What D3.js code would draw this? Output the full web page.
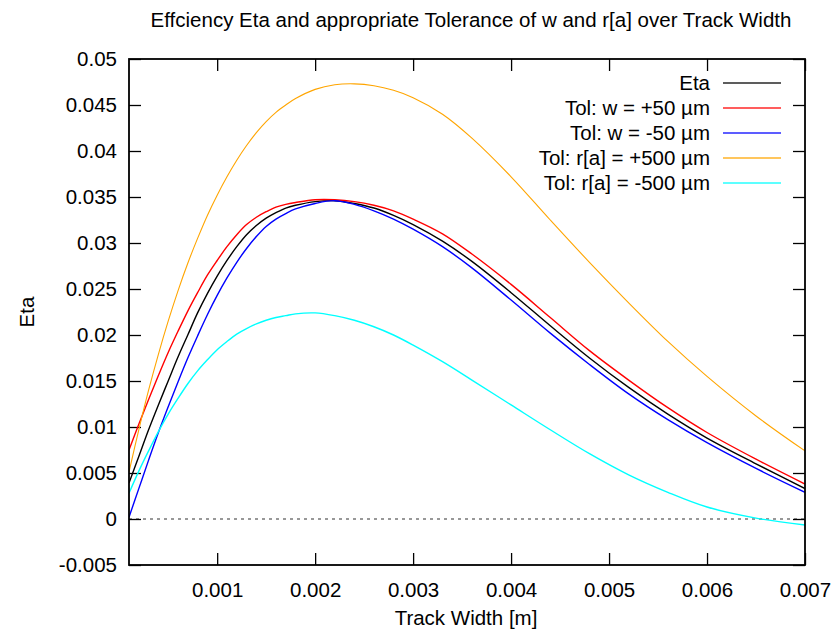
<!DOCTYPE html>
<html>
<head>
<meta charset="utf-8">
<script src="https://cdn.jsdelivr.net/npm/d3@7"></script>
<style>
  html, body { margin: 0; padding: 0; background: #fff; }
  svg { display: block; }
  text { font-family: "Liberation Sans", Arial, Helvetica, sans-serif; fill: #000; }
</style>
</head>
<body>
<script>
// Track width samples [m]
const trackWidth = [0.0001, 0.0002, 0.0003, 0.0004, 0.0005, 0.0006, 0.0007, 0.0008, 0.0009, 0.0010,
  0.0011, 0.0012, 0.0013, 0.0014, 0.0015, 0.0016, 0.0017, 0.0018, 0.0020, 0.0022,
  0.0024, 0.0026, 0.0028, 0.0030, 0.0033, 0.0036, 0.0040, 0.0044, 0.0048, 0.0052,
  0.0056, 0.0060, 0.0065, 0.0070];

// Efficiency Eta and the tolerance variants
const eta = [0.0039, 0.0068, 0.0097, 0.0124, 0.0150, 0.0176, 0.0200, 0.0224, 0.0245, 0.0264,
  0.0281, 0.0296, 0.0309, 0.0319, 0.0327, 0.0333, 0.0338, 0.0341, 0.0345, 0.0346,
  0.0343, 0.0338, 0.0330, 0.0320, 0.0302, 0.0280, 0.0246, 0.0210, 0.0175, 0.0143,
  0.0114, 0.0088, 0.0060, 0.0033];
const tolWPlus = [0.0075, 0.0103, 0.0130, 0.0156, 0.0181, 0.0204, 0.0226, 0.0246, 0.0265, 0.0281,
  0.0296, 0.0309, 0.0320, 0.0328, 0.0334, 0.0339, 0.0342, 0.0344, 0.0347, 0.0347,
  0.0345, 0.0341, 0.0335, 0.0326, 0.0310, 0.0288, 0.0255, 0.0219, 0.0183, 0.0151,
  0.0121, 0.0094, 0.0065, 0.0038];
const tolWMinus = [0.0002, 0.0033, 0.0064, 0.0094, 0.0122, 0.0149, 0.0175, 0.0199, 0.0222, 0.0243,
  0.0262, 0.0279, 0.0294, 0.0307, 0.0318, 0.0326, 0.0332, 0.0337, 0.0343, 0.0346,
  0.0342, 0.0335, 0.0326, 0.0315, 0.0296, 0.0273, 0.0238, 0.0202, 0.0168, 0.0136,
  0.0108, 0.0083, 0.0055, 0.0029];
const tolRaPlus = [0.0051, 0.0097, 0.0140, 0.0179, 0.0215, 0.0248, 0.0278, 0.0305, 0.0330, 0.0352,
  0.0372, 0.0390, 0.0406, 0.0420, 0.0432, 0.0442, 0.0450, 0.0457, 0.0467, 0.0472,
  0.0473, 0.0471, 0.0466, 0.0458, 0.0440, 0.0414, 0.0372, 0.0325, 0.0279, 0.0235,
  0.0193, 0.0155, 0.0112, 0.0074];
const tolRaMinus = [0.0028, 0.0052, 0.0074, 0.0095, 0.0114, 0.0131, 0.0147, 0.0161, 0.0173, 0.0184,
  0.0193, 0.0201, 0.0207, 0.0212, 0.0216, 0.0219, 0.0221, 0.0223, 0.0224, 0.0221,
  0.0216, 0.0209, 0.0200, 0.0189, 0.0171, 0.0151, 0.0124, 0.0097, 0.0071, 0.0048,
  0.0029, 0.0013, 0.0001, -0.00065];

const seriesNames = ["Eta", "Tol: w = +50 µm", "Tol: w = -50 µm", "Tol: r[a] = +500 µm", "Tol: r[a] = -500 µm"];
const seriesValues = [eta, tolWPlus, tolWMinus, tolRaPlus, tolRaMinus];
const seriesColors = ["#000000", "#ff0000", "#0000ff", "#ffa500", "#00ffff"];

const xTicks = [0.001, 0.002, 0.003, 0.004, 0.005, 0.006, 0.007];
const yTicks = [-0.005, 0, 0.005, 0.01, 0.015, 0.02, 0.025, 0.03, 0.035, 0.04, 0.045, 0.05];

const W = 831, H = 642;
const box = { left: 129, right: 805, top: 59, bottom: 565 };
const fs = 20.5;

const svg = d3.select("body").append("svg").attr("width", W).attr("height", H);

const x = d3.scaleLinear().domain([0.0001, 0.007]).range([box.left, box.right]);
const y = d3.scaleLinear().domain([-0.005, 0.05]).range([box.bottom, box.top]);

const fmt = v => String(+v.toFixed(4));

// zero axis, dotted
svg.append("line")
  .attr("x1", box.left).attr("x2", box.right)
  .attr("y1", y(0)).attr("y2", y(0))
  .attr("stroke", "#777").attr("stroke-width", 1.4)
  .attr("stroke-dasharray", "3,4");

// axes with inward ticks, mirrored on top and right
const tickLen = 12;
const axB = svg.append("g").attr("transform", `translate(0,${box.bottom})`)
  .call(d3.axisBottom(x).tickValues(xTicks).tickFormat(fmt).tickSize(-tickLen).tickSizeOuter(0).tickPadding(17));
const axT = svg.append("g").attr("transform", `translate(0,${box.top})`)
  .call(d3.axisTop(x).tickValues(xTicks).tickFormat("").tickSize(-tickLen).tickSizeOuter(0));
const axL = svg.append("g").attr("transform", `translate(${box.left},0)`)
  .call(d3.axisLeft(y).tickValues(yTicks).tickFormat(fmt).tickSize(-tickLen).tickSizeOuter(0).tickPadding(12));
const axR = svg.append("g").attr("transform", `translate(${box.right},0)`)
  .call(d3.axisRight(y).tickValues(yTicks).tickFormat("").tickSize(-tickLen).tickSizeOuter(0));

[axB, axT, axL, axR].forEach(g => {
  g.select(".domain").remove();
  g.selectAll(".tick line").attr("stroke", "#000").attr("stroke-width", 1.3);
  g.selectAll("text").attr("font-size", fs).attr("font-family", "Liberation Sans, Arial, sans-serif").attr("fill", "#000");
});

// curves
const clipId = "plotclip";
svg.append("clipPath").attr("id", clipId).append("rect")
  .attr("x", box.left).attr("y", box.top)
  .attr("width", box.right - box.left).attr("height", box.bottom - box.top);

const line = d3.line().x(d => x(d[0])).y(d => y(d[1])).curve(d3.curveCatmullRom.alpha(0.5));
const widths = [1.4, 1.4, 1.4, 1.1, 1.4];
seriesValues.forEach((vals, i) => {
  svg.append("path")
    .attr("clip-path", `url(#${clipId})`)
    .attr("d", line(trackWidth.map((t, k) => [t, vals[k]])))
    .attr("fill", "none").attr("stroke", seriesColors[i])
    .attr("stroke-width", widths[i]).attr("stroke-linejoin", "round");
});

// frame
svg.append("rect")
  .attr("x", box.left).attr("y", box.top)
  .attr("width", box.right - box.left).attr("height", box.bottom - box.top)
  .attr("fill", "none").attr("stroke", "#000").attr("stroke-width", 1.8);

// legend
const legend = svg.append("g");
seriesNames.forEach((name, i) => {
  const cy = 83 + i * 25;
  legend.append("text").attr("x", 710).attr("y", cy).attr("dy", "0.35em")
    .attr("text-anchor", "end").attr("font-size", fs).text(name);
  legend.append("line").attr("x1", 723).attr("x2", 781).attr("y1", cy).attr("y2", cy)
    .attr("stroke", seriesColors[i]).attr("stroke-width", 1.4).attr("stroke-opacity", 0.85);
});

// titles
svg.append("text").attr("x", 471).attr("y", 27).attr("text-anchor", "middle")
  .attr("font-size", fs).text("Effciency Eta and appropriate Tolerance of w and r[a] over Track Width");
svg.append("text").attr("x", 466).attr("y", 625).attr("text-anchor", "middle")
  .attr("font-size", fs).text("Track Width [m]");
svg.append("text").attr("transform", "translate(34,312) rotate(-90)").attr("text-anchor", "middle")
  .attr("font-size", fs).text("Eta");
</script>
</body>
</html>
